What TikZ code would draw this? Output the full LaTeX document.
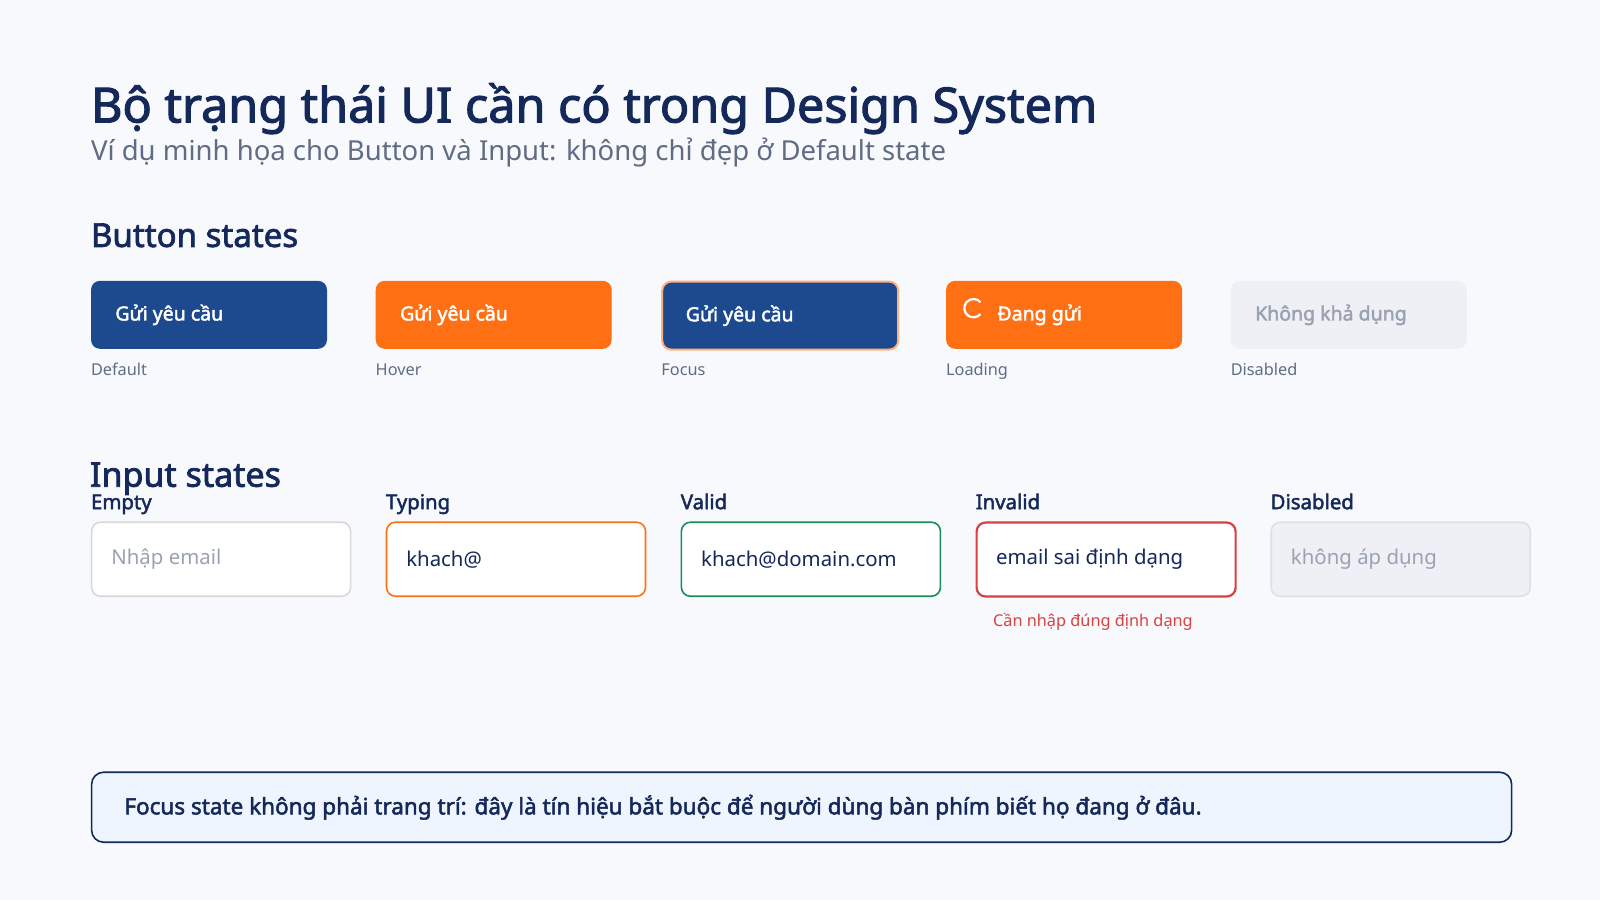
\documentclass[tikz,border=0pt]{standalone}
\usepackage{fontspec}
\setmainfont{Noto Sans}[AutoFakeBold=2.2]
\definecolor{bg}{HTML}{F7F9FD}
\definecolor{navy}{HTML}{14285A}
\definecolor{btnblue}{HTML}{1D4A8F}
\definecolor{orng}{HTML}{FF7015}
\definecolor{gry}{HTML}{5F6C84}
\definecolor{lgry}{HTML}{EEF0F6}
\definecolor{dtxt}{HTML}{9AA2B2}
\definecolor{grn}{HTML}{1E8A5A}
\definecolor{red}{HTML}{D94040}
\definecolor{note}{HTML}{EEF5FF}
\begin{document}
\begin{tikzpicture}[x=1.0204pt,y=-1.0204pt,
 btn/.style={rounded corners=9pt,minimum width=236pt,minimum height=68pt,anchor=north west,inner sep=0pt},
 btxt/.style={anchor=west,font=\fontsize{19.5}{22}\selectfont\bfseries,text=white},
 lbl/.style={anchor=base west,font=\fontsize{16.3}{18}\selectfont,text=gry},
 inp/.style={rounded corners=9pt,minimum width=259pt,minimum height=74pt,anchor=north west,fill=white,line width=1.6pt},
 itxt/.style={anchor=west,font=\fontsize{20.4}{24}\selectfont,text=navy},
 ilbl/.style={anchor=base west,font=\fontsize{20.4}{24}\selectfont\bfseries,text=navy}]
\useasboundingbox[fill=bg] (0,0) rectangle (1568,882);
\node[anchor=base west,inner sep=0,font=\fontsize{48.5}{56}\selectfont\bfseries,text=navy] (title) at (89,120) {Bộ trạng thái UI cần có trong Design System};
\node[anchor=base west,inner sep=0,font=\fontsize{27.5}{32}\selectfont,text=gry] (sub) at (89,157) {Ví dụ minh họa cho Button và Input: không chỉ đẹp ở Default state};
\node[anchor=base west,inner sep=0,font=\fontsize{33}{38}\selectfont\bfseries,text=navy] (bs) at (89,242) {Button states};
% buttons
\node[btn,fill=btnblue] (b1) at (89,275) {};
\node[btxt] at ([xshift=21pt]b1.west) {Gửi yêu cầu};
\node[lbl,inner sep=0] at (89,368) {Default};
\node[btn,fill=orng] (b2) at (368,275) {};
\node[btxt] at ([xshift=21pt]b2.west) {Gửi yêu cầu};
\node[lbl,inner sep=0] at (368,368) {Hover};
\node[btn,fill=btnblue,draw={orng!55!white},line width=2pt] (b3) at (648,275) {};
\node[btxt] at ([xshift=21pt]b3.west) {Gửi yêu cầu};
\node[lbl,inner sep=0] at (648,368) {Focus};
\node[btn,fill=orng] (b4) at (927,275) {};
\draw[white,line width=2.2pt] (954,302) ++(40:9) arc[start angle=40,end angle=320,radius=9];
\node[btxt] at ([xshift=48pt]b4.west) {Đang gửi};
\node[lbl,inner sep=0] at (927,368) {Loading};
\node[btn,fill=lgry] (b5) at (1206,275) {};
\node[btxt,text=dtxt] at ([xshift=21pt]b5.west) {Không khả dụng};
\node[lbl,inner sep=0] at (1206,368) {Disabled};
% inputs
\node[anchor=base west,inner sep=0,font=\fontsize{34}{38}\selectfont\bfseries,text=navy] (is) at (88,477) {Input states};
\node[ilbl,inner sep=0] at (89,499) {Empty};
\node[inp,draw={black!15}] (i1) at (89,511) {};
\node[itxt,text=dtxt] at ([xshift=17pt]i1.west) {Nhập email};
\node[ilbl,inner sep=0] at (378,499) {Typing};
\node[inp,draw=orng] (i2) at (378,511) {};
\node[itxt] at ([xshift=17pt]i2.west) {khach@};
\node[ilbl,inner sep=0] at (667,499) {Valid};
\node[inp,draw=grn] (i3) at (667,511) {};
\node[itxt] at ([xshift=17pt]i3.west) {khach@domain.com};
\node[ilbl,inner sep=0] at (956,499) {Invalid};
\node[inp,draw=red,line width=2.2pt] (i4) at (956,511) {};
\node[itxt] at ([xshift=17pt]i4.west) {email sai định dạng};
\node[anchor=base west,inner sep=0,font=\fontsize{16.3}{18}\selectfont,text=red] (err) at (973,614) {Cần nhập đúng định dạng};
\node[ilbl,inner sep=0] at (1245,499) {Disabled};
\node[inp,fill=lgry,draw={black!12}] (i5) at (1245,511) {};
\node[itxt,text=dtxt] at ([xshift=17pt]i5.west) {không áp dụng};
% note
\node[rounded corners=12pt,anchor=north west,minimum width=1420pt,minimum height=70pt,fill=note,draw=navy,line width=1.6pt] (nb) at (89,756) {};
\node[anchor=west,font=\fontsize{22.5}{26}\selectfont\bfseries,text=navy] at ([xshift=30pt]nb.west) {Focus state không phải trang trí: đây là tín hiệu bắt buộc để người dùng bàn phím biết họ đang ở đâu.};
\end{tikzpicture}
\end{document}
